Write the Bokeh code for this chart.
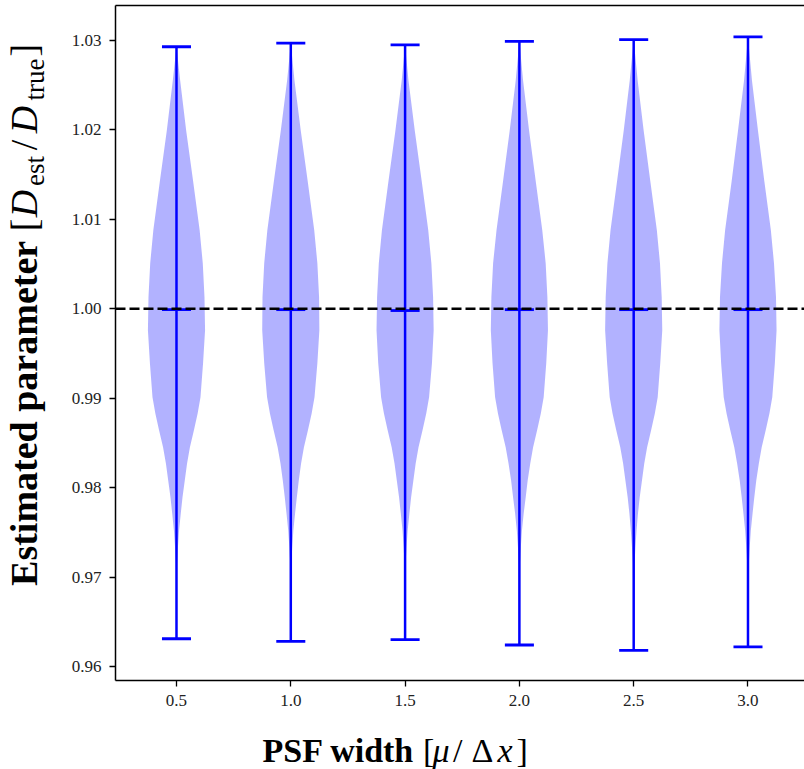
import numpy as np
from bokeh.plotting import figure
from bokeh.layouts import row, column
from bokeh.models import Range1d, FixedTicker, NumeralTickFormatter, LinearAxis, Span
from bokeh.core.properties import value
from bokeh.embed import file_html
from bokeh.resources import INLINE

# ---------------- data ----------------
psf_width = [0.5, 1.0, 1.5, 2.0, 2.5, 3.0]
x_tick_labels = ["0.5", "1.0", "1.5", "2.0", "2.5", "3.0"]
y_ticks = [0.96, 0.97, 0.98, 0.99, 1.00, 1.01, 1.02, 1.03]

est_max = [1.0293, 1.0297, 1.0295, 1.0299, 1.0301, 1.0304]
est_median = [0.9999, 0.9999, 0.9998, 0.9999, 0.9999, 0.9999]
est_min = [0.9631, 0.9628, 0.9630, 0.9624, 0.9618, 0.9622]
true_value = 1.0

# KDE outline (relative half-width) at these estimate levels
kde_levels = [1.0255, 1.0199, 1.0143, 1.0088, 1.0051, 1.0013, 0.9976, 0.9939,
              0.9901, 0.9883, 0.9864, 0.9845, 0.9827, 0.9808, 0.9789, 0.9771,
              0.9752, 0.9733, 0.9715]
kde_05 = [0.13, 0.34, 0.58, 0.81, 0.92, 0.98, 1.00, 0.93, 0.84, 0.74, 0.61, 0.47,
          0.37, 0.29, 0.21, 0.15, 0.09, 0.05, 0.02]
kde_10 = [0.13, 0.35, 0.59, 0.82, 0.93, 0.99, 1.00, 0.93, 0.83, 0.73, 0.60, 0.46,
          0.36, 0.28, 0.21, 0.15, 0.09, 0.05, 0.02]
kde_15 = [0.12, 0.34, 0.58, 0.81, 0.92, 0.98, 1.00, 0.94, 0.84, 0.74, 0.61, 0.47,
          0.37, 0.29, 0.21, 0.15, 0.09, 0.05, 0.02]
kde_20 = [0.13, 0.34, 0.57, 0.80, 0.92, 0.98, 1.00, 0.94, 0.85, 0.75, 0.62, 0.48,
          0.38, 0.29, 0.22, 0.15, 0.09, 0.05, 0.02]
kde_25 = [0.14, 0.35, 0.58, 0.81, 0.92, 0.98, 1.00, 0.93, 0.84, 0.74, 0.61, 0.47,
          0.37, 0.29, 0.21, 0.15, 0.10, 0.06, 0.03]
kde_30 = [0.14, 0.35, 0.57, 0.80, 0.91, 0.98, 1.00, 0.94, 0.85, 0.75, 0.62, 0.48,
          0.38, 0.29, 0.22, 0.16, 0.10, 0.06, 0.03]
kde_all = [kde_05, kde_10, kde_15, kde_20, kde_25, kde_30]

# ---------------- styling constants ----------------
VIOLIN_HALF = 0.125   # max half width in x units
CAP_HALF = 0.0635
BLUE = "#0000ff"
SERIF = "Liberation Serif"

YLAB_W = 55
MAIN_W = 804 - YLAB_W
MAIN_H = 724
XLAB_H = 45

X0, X1 = 0.2332, 3.2472
Y0, Y1 = 0.95843, 1.03391

p = figure(width=MAIN_W, height=MAIN_H, output_backend="svg", toolbar_location=None,
           x_range=Range1d(X0, X1), y_range=Range1d(Y0, Y1),
           min_border_left=115 - YLAB_W, min_border_right=0, min_border_top=5,
           min_border_bottom=MAIN_H - 680)
p.background_fill_color = "white"
p.border_fill_color = "white"
p.outline_line_color = None
p.xgrid.visible = False
p.ygrid.visible = False

for c, lo, hi, dens in zip(psf_width, est_min, est_max, kde_all):
    ys = np.array([hi] + kde_levels + [lo])
    d = np.array([0.0] + dens + [0.0])
    p.harea(y=ys, x1=c - VIOLIN_HALF * d, x2=c + VIOLIN_HALF * d,
            fill_color=BLUE, fill_alpha=0.3)

xs = np.array(psf_width)
p.segment(x0=xs, x1=xs, y0=est_min, y1=est_max, line_color=BLUE, line_width=2.5)
for arr in (est_min, est_max, est_median):
    p.segment(x0=xs - CAP_HALF, x1=xs + CAP_HALF, y0=arr, y1=arr,
              line_color=BLUE, line_width=2.8)

p.add_layout(Span(location=true_value, dimension="width", line_color="black",
                  line_dash="10 4", line_width=2.4))

for ax in (p.xaxis[0], p.yaxis[0]):
    ax.axis_line_width = 1.5
    ax.axis_line_color = "black"
    ax.major_tick_line_width = 1.3
    ax.major_tick_line_color = "black"
    ax.major_tick_out = 6
    ax.major_tick_in = 0
    ax.minor_tick_line_color = None
    ax.major_label_text_font = SERIF
    ax.major_label_text_font_size = "17px"
    ax.major_label_text_color = "#222222"
    ax.major_label_standoff = 8

p.xaxis.ticker = FixedTicker(ticks=psf_width)
p.xaxis.major_label_overrides = {t: s for t, s in zip(psf_width, x_tick_labels)}
p.yaxis.ticker = FixedTicker(ticks=y_ticks)
p.yaxis.formatter = NumeralTickFormatter(format="0.00")

top = LinearAxis(ticker=FixedTicker(ticks=[]), axis_line_width=1.5,
                 axis_line_color="black", major_tick_out=0, major_tick_in=0,
                 minor_tick_out=0, minor_tick_in=0, major_label_standoff=0,
                 major_label_text_font_size="0px")
p.add_layout(top, "above")


def label_fig(w, h):
    f = figure(width=w, height=h, output_backend="svg", toolbar_location=None,
               x_range=Range1d(0, w), y_range=Range1d(0, h),
               x_axis_type=None, y_axis_type=None,
               min_border_left=0, min_border_right=0, min_border_top=0,
               min_border_bottom=0)
    f.outline_line_color = None
    f.background_fill_color = "white"
    f.border_fill_color = "white"
    f.xgrid.visible = False
    f.ygrid.visible = False
    return f


def put(f, text, x, y, size, style="normal", angle=0.0):
    f.text(x=[x], y=[y], text=[text], text_font=value(SERIF),
           text_font_size=f"{size}px", text_font_style=style, angle=angle,
           text_align="center", text_baseline="middle", text_color="black")


# ---------------- y label: Estimated parameter [D_est / D_true] ----------------
yl = label_fig(YLAB_W, MAIN_H)
A = np.pi / 2
def ly(page_y):
    return MAIN_H - page_y
CX_MAIN = 23.5   # page x of the text middle for the large pieces
CX_SUB = 34.5    # page x of the text middle for the subscripts
put(yl, "Estimated parameter", CX_MAIN, ly(437.5), 38, "bold", A)
put(yl, "[", CX_MAIN, ly(235.3), 38, "normal", A)
put(yl, "D", CX_MAIN, ly(212.4), 38, "italic", A)
put(yl, "est", CX_SUB, ly(177.6), 27, "normal", A)
put(yl, "/", CX_MAIN, ly(149.7), 38, "normal", A)
put(yl, "D", CX_MAIN, ly(122.3), 38, "italic", A)
put(yl, "true", CX_SUB, ly(79.5), 27, "normal", A)
put(yl, "]", CX_MAIN, ly(48.0), 38, "normal", A)

# ---------------- x label: PSF width [mu / Delta x] ----------------
xl = label_fig(804, XLAB_H)
def lx(page_y):
    return MAIN_H + XLAB_H - page_y
MY = lx(749.5)
put(xl, "PSF width", 338, MY, 34, "bold")
put(xl, "[", 428.2, MY, 34)
put(xl, "\u03bc", 440.5, MY, 34, "italic")
put(xl, "/", 457.2, MY, 34)
put(xl, "\u0394", 482, MY, 34)
put(xl, "x", 504.5, MY, 34, "italic")
put(xl, "]", 521.7, MY, 34)

layout = column(row(yl, p), xl)
open("out.html", "w").write(file_html(layout, INLINE))
